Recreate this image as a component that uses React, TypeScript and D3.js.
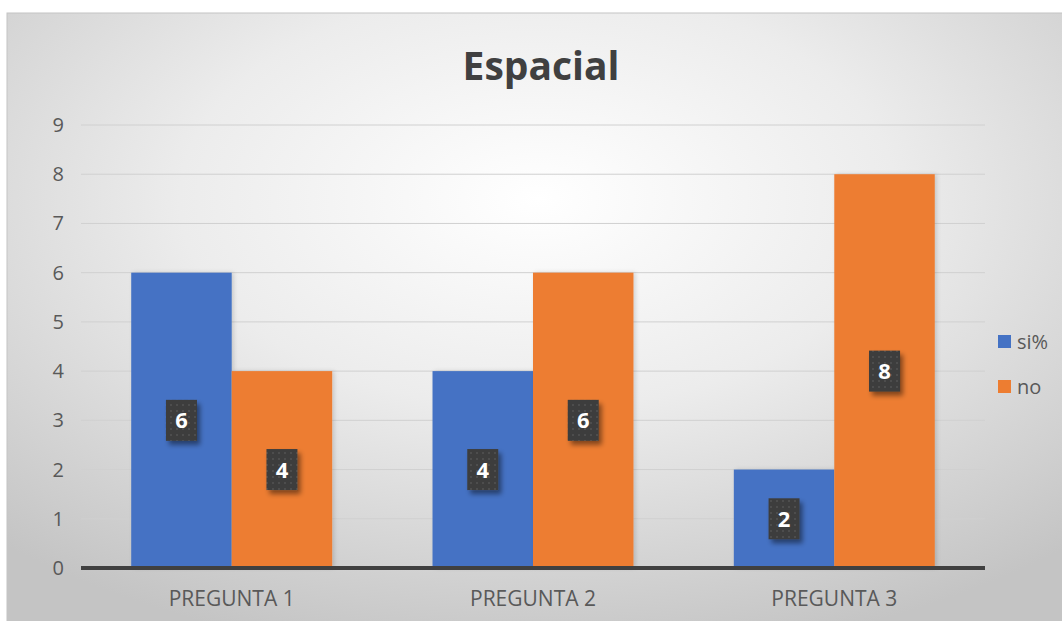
import React from "react";
import * as d3 from "d3";

const categories = ["PREGUNTA 1", "PREGUNTA 2", "PREGUNTA 3"];
const seriesNames = ["si%", "no"];
const siValues = [6, 4, 2];
const noValues = [4, 6, 8];
const yTicks = [0, 1, 2, 3, 4, 5, 6, 7, 8, 9];
const colors = ["#4472C4", "#ED7D31"];

export default function App() {
  const W = 1062, H = 621;
  const left = 81, right = 985, top = 125, bottom = 568;
  const y = d3.scaleLinear().domain([0, 9]).range([bottom, top]);
  const x0 = d3.scaleBand().domain(categories).range([left, right]).paddingInner(0.333).paddingOuter(0.1667);
  const x1 = d3.scaleBand().domain(seriesNames).range([0, x0.bandwidth()]);
  const series = [siValues, noValues];
  const font = "'Open Sans', 'Liberation Sans', sans-serif";

  return (
    <div style={{ position: "absolute", left: 0, top: 0 }}>
      <svg width={W} height={H} style={{ display: "block" }}>
        <defs>
          <radialGradient id="bg" cx="50%" cy="30%" r="75%">
            <stop offset="0%" stopColor="#ffffff" />
            <stop offset="45%" stopColor="#ececec" />
            <stop offset="100%" stopColor="#c4c4c4" />
          </radialGradient>
          <pattern id="dots" width="6" height="6" patternUnits="userSpaceOnUse">
            <rect width="6" height="6" fill="#3d3d3d" />
            <circle cx="3" cy="3" r="0.9" fill="#555" />
          </pattern>
          <filter id="sh" x="-30%" y="-30%" width="170%" height="170%">
            <feDropShadow dx="3" dy="4" stdDeviation="2.5" floodColor="#000" floodOpacity="0.45" />
          </filter>
          <filter id="barsh" x="-10%" y="-10%" width="130%" height="120%">
            <feDropShadow dx="2" dy="0" stdDeviation="2" floodColor="#000" floodOpacity="0.15" />
          </filter>
        </defs>
        <rect x={0} y={0} width={W} height={H} fill="#ffffff" />
        <rect x={7} y={13} width={W} height={H} fill="url(#bg)" stroke="#c4c4c4" strokeWidth={1} />
        <text x={541} y={80} textAnchor="middle" fontFamily={font} fontWeight="bold" fontSize={39} fill="#404040">Espacial</text>
        {yTicks.map(t => (
          <g key={t}>
            {t > 0 && <line x1={left} x2={right} y1={y(t)} y2={y(t)} stroke="#d0d0d0" strokeWidth={1} />}
            <text x={64} y={y(t) + 7} textAnchor="end" fontFamily={font} fontSize={20} fill="#595959">{t}</text>
          </g>
        ))}
        {categories.map((c, ci) => (
          <g key={c}>
            {series.map((vals, si) => {
              const bx = (x0(c) as number) + (x1(seriesNames[si]) as number);
              return (
                <rect key={si} x={bx} y={y(vals[ci])} width={x1.bandwidth()} height={bottom - y(vals[ci])} fill={colors[si]} filter="url(#barsh)" />
              );
            })}
          </g>
        ))}
        <line x1={left} x2={right} y1={bottom} y2={bottom} stroke="#404040" strokeWidth={4} />
        {categories.map((c, ci) => (
          <g key={c}>
            {series.map((vals, si) => {
              const cx = (x0(c) as number) + (x1(seriesNames[si]) as number) + x1.bandwidth() / 2;
              const cy = y(vals[ci] / 2);
              return (
                <g key={si}>
                  <rect x={cx - 15.5} y={cy - 20.5} width={31} height={41} fill="url(#dots)" filter="url(#sh)" />
                  <text x={cx} y={cy + 8} textAnchor="middle" fontFamily={font} fontWeight="bold" fontSize={22} fill="#ffffff">{vals[ci]}</text>
                </g>
              );
            })}
            <text x={(x0(c) as number) + x0.bandwidth() / 2} y={606} textAnchor="middle" fontFamily={font} fontSize={21} fill="#595959">{c}</text>
          </g>
        ))}
        {seriesNames.map((s, i) => (
          <g key={s}>
            <rect x={998} y={335 + i * 45} width={13} height={13} fill={colors[i]} />
            <text x={1017} y={348.5 + i * 45} fontFamily={font} fontSize={20} fill="#595959">{s}</text>
          </g>
        ))}
      </svg>
    </div>
  );
}
